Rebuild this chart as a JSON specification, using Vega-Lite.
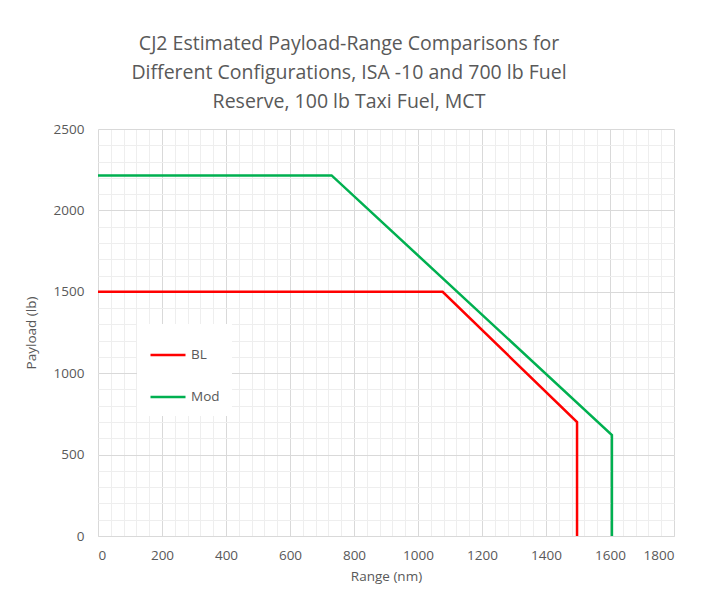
{
  "$schema": "https://vega.github.io/schema/vega-lite/v6.json",
  "autosize": "none",
  "width": 576,
  "height": 407,
  "padding": {"left": 98, "top": 129, "right": 44, "bottom": 56},
  "background": "white",
  "title": {
    "text": ["CJ2 Estimated Payload-Range Comparisons for", "Different Configurations, ISA -10 and 700 lb Fuel", "Reserve, 100 lb Taxi Fuel, MCT"],
    "font": "Open Sans",
    "fontSize": 19.5,
    "fontWeight": "normal",
    "color": "#595959",
    "lineHeight": 29,
    "anchor": "middle",
    "dx": -37,
    "offset": 10
  },
  "data": {
    "values": [
      {"config": "BL", "seq": 1, "range": 0, "payload": 1500},
      {"config": "BL", "seq": 2, "range": 1077, "payload": 1500},
      {"config": "BL", "seq": 3, "range": 1497, "payload": 700},
      {"config": "BL", "seq": 4, "range": 1497, "payload": 0},
      {"config": "Mod", "seq": 1, "range": 0, "payload": 2215},
      {"config": "Mod", "seq": 2, "range": 730, "payload": 2215},
      {"config": "Mod", "seq": 3, "range": 1606, "payload": 620},
      {"config": "Mod", "seq": 4, "range": 1606, "payload": 0}
    ]
  },
  "config": {
    "view": {"stroke": null},
    "axis": {"labelFont": "Open Sans", "titleFont": "Open Sans", "labelColor": "#595959", "titleColor": "#595959", "labelFontSize": 13.5, "titleFontSize": 13.5, "titleFontWeight": "normal"}
  },
  "layer": [
    {
      "mark": {"type": "line", "strokeWidth": 2.5, "opacity": 0},
      "encoding": {
        "x": {"field": "range", "type": "quantitative", "scale": {"domain": [0, 1800], "nice": false},
          "axis": {"orient": "bottom", "values": [0,40,80,120,160,200,240,280,320,360,400,440,480,520,560,600,640,680,720,760,800,840,880,920,960,1000,1040,1080,1120,1160,1200,1240,1280,1320,1360,1400,1440,1480,1520,1560,1600,1640,1680,1720,1760,1800],
            "grid": true, "gridColor": "#eeeeee", "gridWidth": 1, "labels": false, "ticks": false, "domain": false, "title": null}},
        "y": {"field": "payload", "type": "quantitative", "scale": {"domain": [0, 2500], "nice": false},
          "axis": {"orient": "left", "values": [0,100,200,300,400,500,600,700,800,900,1000,1100,1200,1300,1400,1500,1600,1700,1800,1900,2000,2100,2200,2300,2400,2500],
            "grid": true, "gridColor": "#eeeeee", "gridWidth": 1, "labels": false, "ticks": false, "domain": false, "title": null}},
        "detail": {"field": "config"},
        "order": {"field": "seq"}
      }
    },
    {
      "mark": {"type": "line", "strokeWidth": 2.5},
      "encoding": {
        "x": {"field": "range", "type": "quantitative", "scale": {"domain": [0, 1800], "nice": false},
          "axis": {"orient": "bottom", "values": [0,200,400,600,800,1000,1200,1400,1600,1800], "format": "d", "grid": true, "gridColor": "#d9d9d9", "ticks": false, "domain": true, "domainColor": "#d9d9d9", "labelPadding": 12, "title": "Range (nm)", "titlePadding": 8}},
        "y": {"field": "payload", "type": "quantitative", "scale": {"domain": [0, 2500], "nice": false},
          "axis": {"orient": "left", "values": [0,500,1000,1500,2000,2500], "format": "d", "grid": true, "gridColor": "#d9d9d9", "ticks": false, "domain": false, "labelPadding": 14, "title": "Payload (lb)", "titlePadding": 15}},
        "color": {"field": "config", "type": "nominal", "scale": {"domain": ["BL", "Mod"], "range": ["#ff0000", "#00b050"]},
          "legend": {"title": null, "orient": "none", "legendX": 39, "legendY": 195, "fillColor": "white", "padding": 12, "symbolType": "stroke", "symbolSize": 1225, "symbolStrokeWidth": 2.5, "rowPadding": 16, "labelFont": "Open Sans", "labelFontSize": 13.5, "labelColor": "#595959", "labelOffset": 4, "labelLimit": 60}},
        "order": {"field": "seq"}
      }
    }
  ],
  "resolve": {"axis": {"x": "independent", "y": "independent"}}
}
